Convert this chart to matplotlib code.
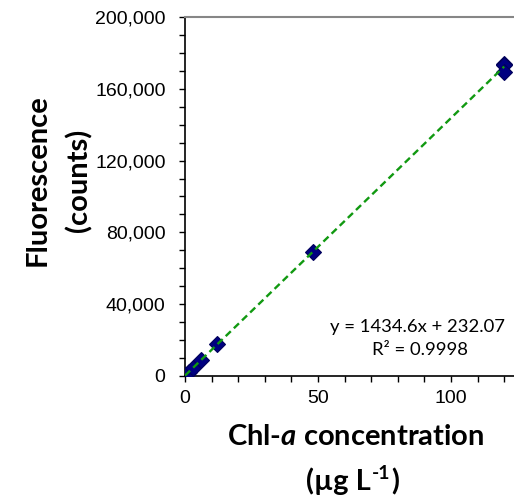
import numpy as np
import matplotlib
matplotlib.use("Agg")
import matplotlib.pyplot as plt
from matplotlib.ticker import MultipleLocator, FuncFormatter

plt.rcParams['font.family'] = ['Liberation Sans', 'DejaVu Sans']
plt.rcParams['mathtext.fontset'] = 'custom'
plt.rcParams['mathtext.bfit'] = 'Lato:italic:bold'
plt.rcParams['mathtext.bf'] = 'Lato:bold'
plt.rcParams['mathtext.rm'] = 'Lato'

# Calibration data
conc = [0, 1.5, 3, 6, 12, 48, 120, 120, 120]
fluo = [350, 2500, 4700, 9100, 17600, 68900, 174000, 173200, 169300]

# Trendline from the chart equation
slope = 1434.6
intercept = 232.07
r2 = 0.9998

fig = plt.figure(figsize=(5.14, 5.03), dpi=100)
ax = fig.add_axes([185 / 514, 1 - 376 / 503, 1 - 185 / 514, (376 - 17) / 503])

ax.plot(conc, fluo, linestyle='none', marker='D', markersize=8,
        markerfacecolor='#000080', markeredgecolor='#00005a', markeredgewidth=0.8,
        zorder=3)

xfit = np.array([0, 120])
ax.plot(xfit, slope * xfit + intercept, linestyle=(0, (3, 1.8)), color='#119911',
        linewidth=1.7, zorder=4)

ax.set_xlim(0, 123.7)
ax.set_ylim(0, 200000)
ax.xaxis.set_major_locator(MultipleLocator(50))
ax.xaxis.set_minor_locator(MultipleLocator(10))
ax.yaxis.set_major_locator(MultipleLocator(40000))
ax.yaxis.set_minor_locator(MultipleLocator(10000))
ax.yaxis.set_major_formatter(FuncFormatter(lambda v, p: f"{int(v):,}"))

ax.tick_params(which='both', direction='out', length=4, width=1, labelsize=14)
ax.tick_params(axis='y', which='both', pad=10)
ax.tick_params(axis='x', which='both', pad=6)

ax.spines['right'].set_visible(False)
ax.spines['top'].set_color('#868686')
ax.spines['top'].set_linewidth(1.5)
ax.spines['left'].set_linewidth(1.2)
ax.spines['bottom'].set_linewidth(1.2)

# Axis titles
lab = dict(fontsize=21, fontweight='bold', family='Lato')
fig.text(38 / 514, 1 - 180 / 503, 'Fluorescence', rotation=90, ha='center', va='center', **lab)
fig.text(79 / 514, 1 - 180 / 503, '(counts)', rotation=90, ha='center', va='center', **lab)
fig.text(356 / 514, 1 - 437 / 503, 'Chl-$\\mathbfit{a}$ concentration', ha='center', va='center', **lab)

# second line "(µg L^-1)" built from pieces so the superscript keeps a hyphen
renderer = fig.canvas.get_renderer()
y2 = 1 - 490 / 503
p1 = fig.text(0, y2, '(µg L', ha='left', va='baseline', **lab)
p2 = fig.text(0, y2 + 11 / 503, '-1', ha='left', va='baseline',
              fontsize=14, fontweight='bold', family='Lato')
p3 = fig.text(0, y2, ')', ha='left', va='baseline', **lab)
w = [p.get_window_extent(renderer).width for p in (p1, p2, p3)]
x0 = 352 - sum(w) / 2
p1.set_x(x0 / 514)
p2.set_x((x0 + w[0] + 1) / 514)
p3.set_x((x0 + w[0] + w[1] + 2) / 514)

# Equation
fig.text(418 / 514, 1 - 327 / 503, f'y = {slope}x + {intercept}', ha='center', va='center',
         fontsize=13.3, family='Lato')
fig.text(420 / 514, 1 - 350 / 503, f'R² = {r2}', ha='center', va='center',
         fontsize=13.3, family='Lato')

fig.savefig('out.png', dpi=100)
